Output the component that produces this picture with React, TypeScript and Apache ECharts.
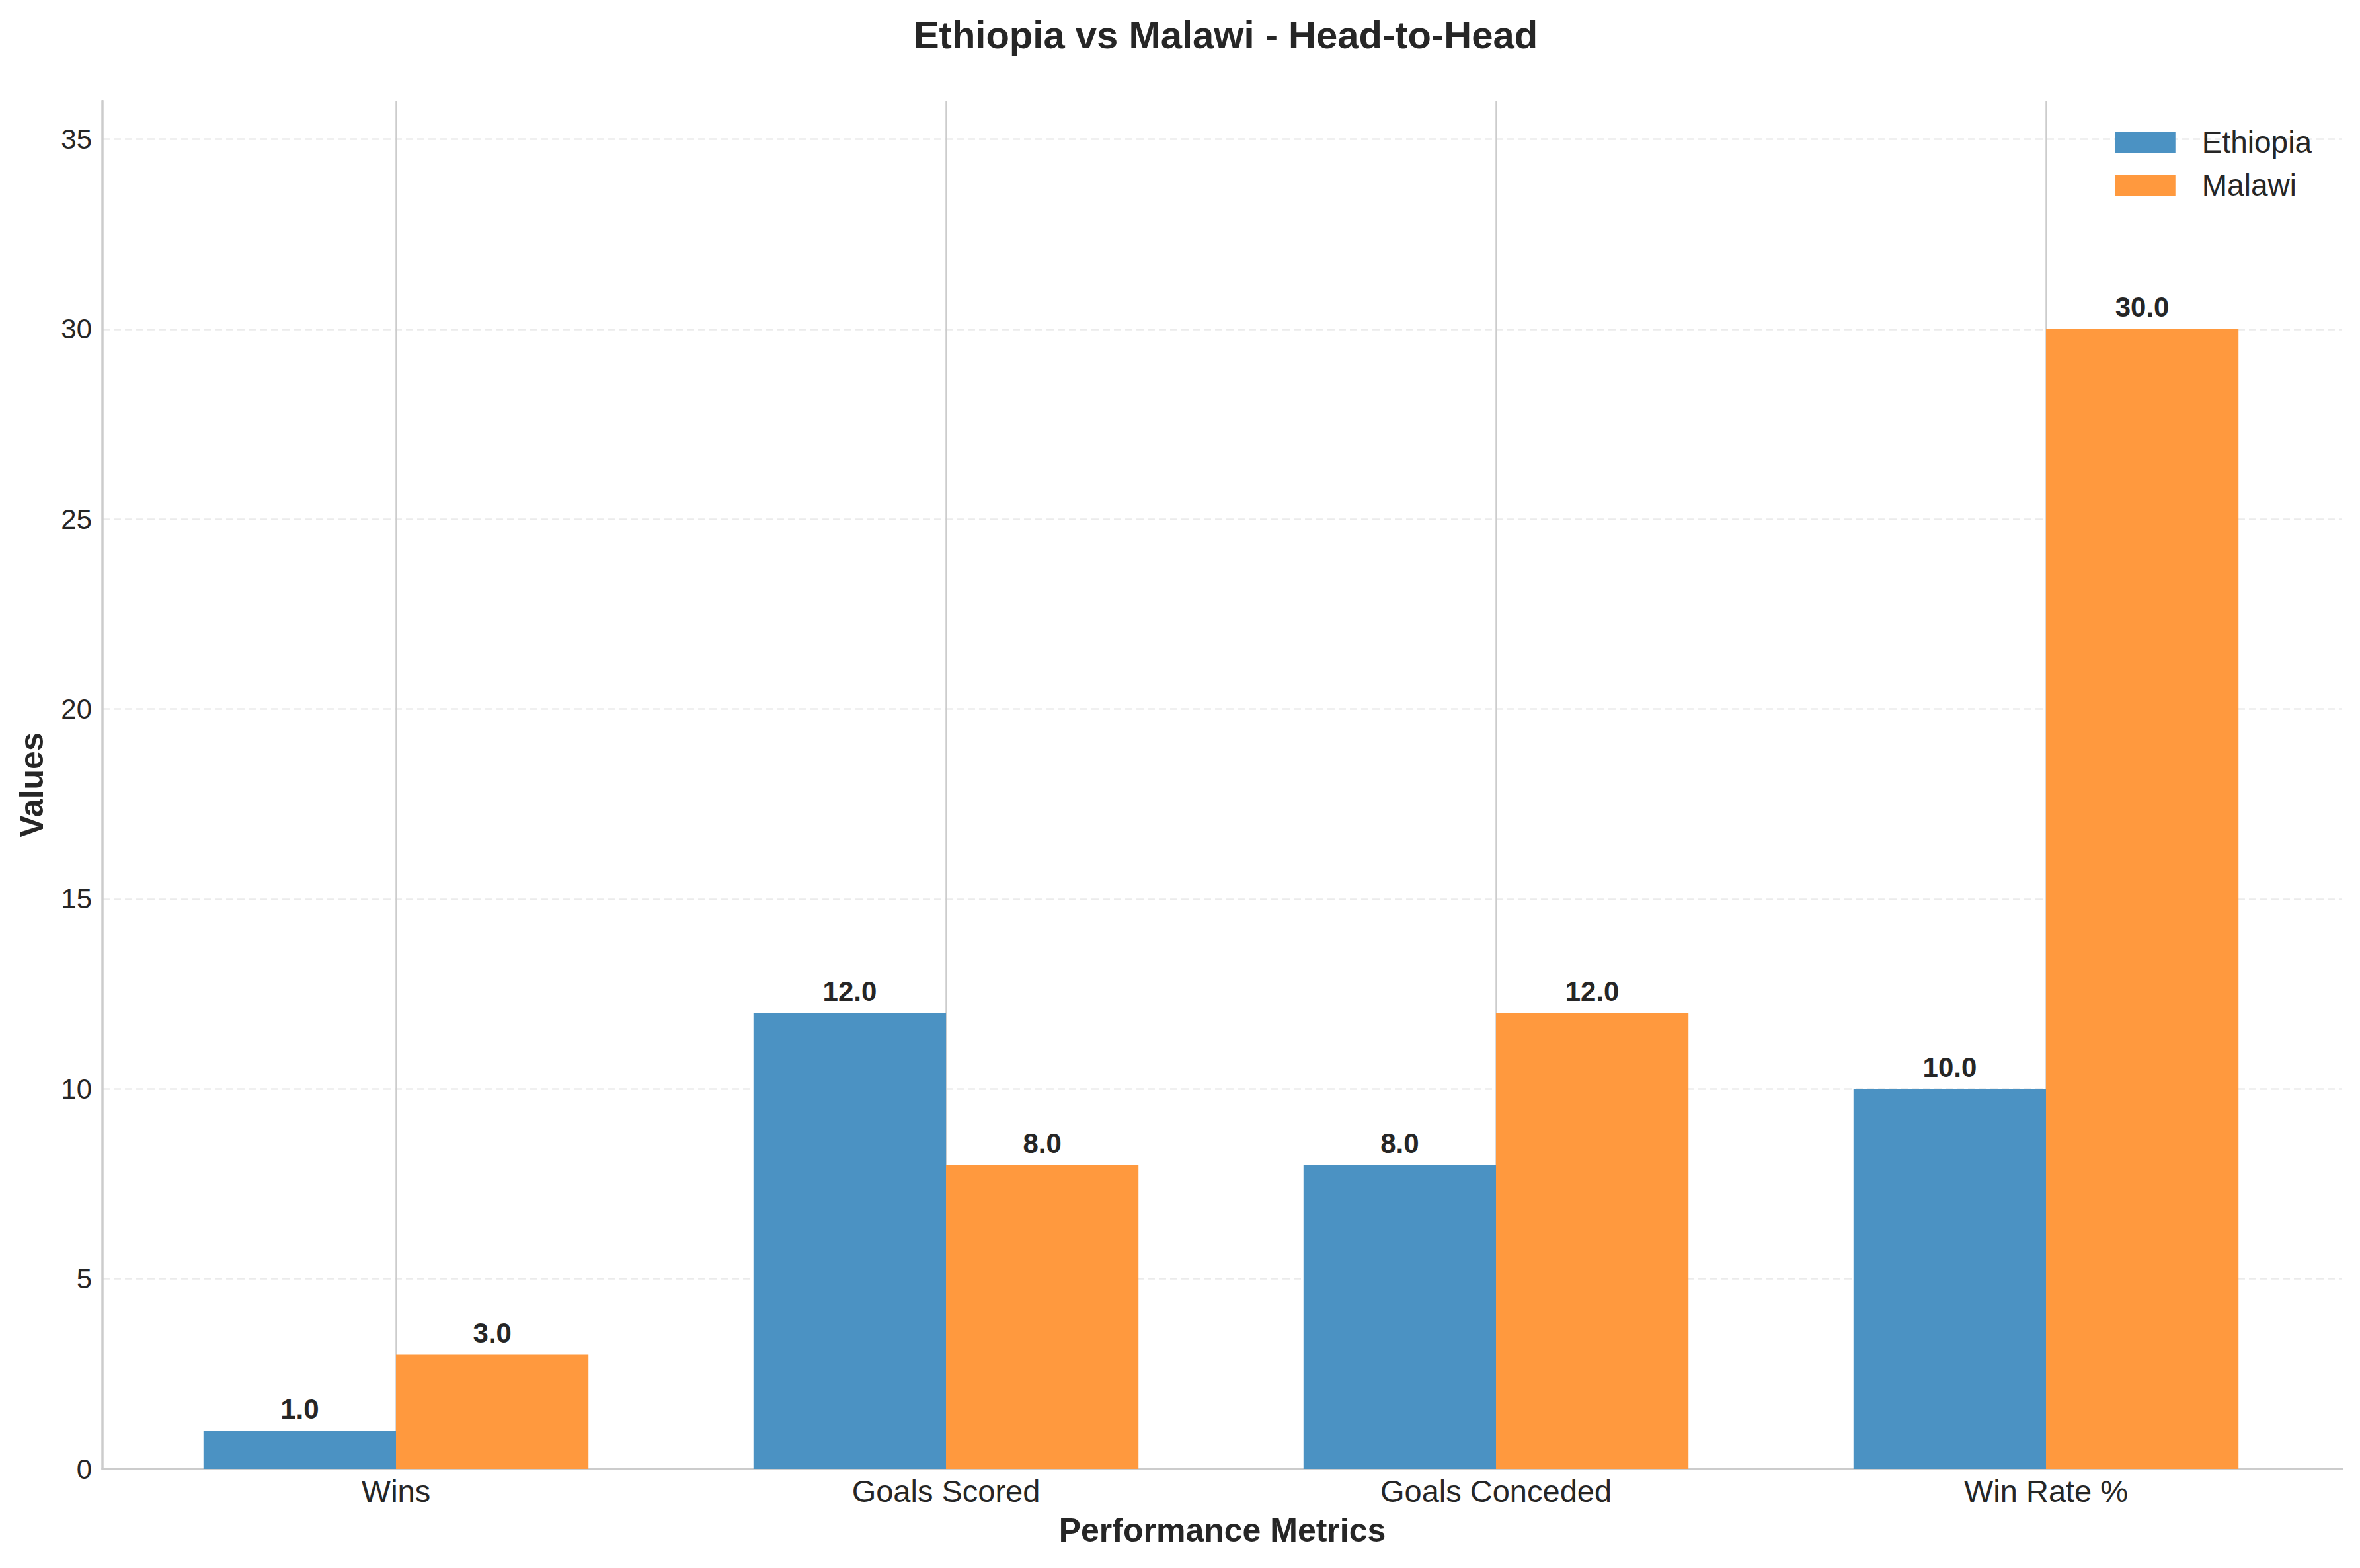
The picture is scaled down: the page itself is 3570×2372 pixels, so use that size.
import React, { useEffect, useRef } from "react";
import * as echarts from "echarts";

const categories = ["Wins", "Goals Scored", "Goals Conceded", "Win Rate %"];
const ethiopiaValues = [1, 12, 8, 10];
const malawiValues = [3, 8, 12, 30];
const yTicks = [0, 5, 10, 15, 20, 25, 30, 35];

const W = 3570;
const H = 2372;
const TEXT = "#262626";
const FONT = "Liberation Sans, Arial, sans-serif";

export default function App() {
  const ref = useRef<HTMLDivElement>(null);
  useEffect(() => {
    document.body.style.margin = "0";
    const chart = echarts.init(ref.current!, null, { renderer: "svg" });
    const plotL = 155, plotR = 3543, plotT = 153, plotB = 2222;
    const c0 = 599, step = 832;
    const yMax = 36;
    const tickMax = yTicks[yTicks.length - 1];
    const unit = (plotB - plotT) / yMax;
    const tickTop = plotB - tickMax * unit;
    const option: any = {
      animation: false,
      backgroundColor: "#ffffff",
      textStyle: { fontFamily: FONT, color: TEXT },
      title: {
        text: "Ethiopia vs Malawi - Head-to-Head",
        left: 1849,
        textAlign: "center",
        top: 18,
        textStyle: { fontFamily: FONT, fontSize: 58, fontWeight: "bold", color: TEXT },
      },
      legend: {
        orient: "vertical",
        right: 73,
        top: 192,
        padding: 0,
        itemWidth: 91,
        itemHeight: 32,
        itemGap: 19,
        icon: "rect",
        data: ["Ethiopia", "Malawi"],
        textStyle: { fontFamily: FONT, fontSize: 46, color: TEXT, lineHeight: 46, padding: [0, 0, 0, 35] },
      },
      grid: [
        { left: plotL, right: W - plotR, top: plotT, bottom: H - plotB, containLabel: false },
        { left: c0 - step / 2, right: W - (c0 + step * 3.5), top: plotT, bottom: H - plotB, containLabel: false },
        { left: c0, right: W - (c0 + step * 3), top: plotT, bottom: H - plotB, containLabel: false },
        { left: plotL, right: W - plotR, top: tickTop, bottom: H - plotB, containLabel: false },
      ],
      xAxis: [
        {
          gridIndex: 0,
          type: "value",
          min: 0,
          max: 1,
          axisLine: { show: true, lineStyle: { color: "#cccccc", width: 3.5 } },
          axisTick: { show: false },
          axisLabel: { show: false },
          splitLine: { show: false },
          name: "Performance Metrics",
          nameLocation: "middle",
          nameGap: 68,
          nameTextStyle: { fontFamily: FONT, fontSize: 50, fontWeight: "bold", color: TEXT },
        },
        {
          gridIndex: 1,
          type: "category",
          data: categories,
          axisLine: { show: false },
          axisTick: { show: false },
          splitLine: { show: false },
          axisLabel: { fontFamily: FONT, fontSize: 47, color: TEXT, margin: 10 },
        },
        {
          gridIndex: 2,
          type: "value",
          min: 0,
          max: 3,
          interval: 1,
          axisLine: { show: false },
          axisTick: { show: false },
          axisLabel: { show: false },
          splitLine: { show: true, lineStyle: { color: "#cccccc", width: 2.5, type: "solid" } },
        },
        {
          gridIndex: 3,
          type: "value",
          min: 0,
          max: 1,
          show: false,
          splitLine: { show: false },
        },
      ],
      yAxis: [
        {
          gridIndex: 0,
          type: "value",
          min: 0,
          max: yMax,
          axisLine: { show: true, lineStyle: { color: "#cccccc", width: 3.5 } },
          axisTick: { show: false },
          axisLabel: { show: false },
          splitLine: { show: false },
          name: "Values",
          nameLocation: "middle",
          nameGap: 82,
          nameTextStyle: { fontFamily: FONT, fontSize: 50, fontWeight: "bold", color: TEXT },
        },
        {
          gridIndex: 1,
          type: "value",
          min: 0,
          max: yMax,
          show: false,
          splitLine: { show: false },
        },
        {
          gridIndex: 2,
          type: "value",
          min: 0,
          max: yMax,
          show: false,
          splitLine: { show: false },
        },
        {
          gridIndex: 3,
          type: "value",
          min: 0,
          max: tickMax,
          interval: 5,
          axisLine: { show: false },
          axisTick: { show: false },
          axisLabel: {
            fontFamily: FONT,
            fontSize: 42,
            color: TEXT,
            margin: 16,
            formatter: (v: number) => (yTicks.includes(v) ? String(v) : ""),
          },
          splitLine: { show: true, lineStyle: { color: "#ebebeb", width: 2.5, type: [11, 6] } },
        },
      ],
      series: [
        {
          name: "Ethiopia",
          type: "bar",
          xAxisIndex: 1,
          yAxisIndex: 1,
          data: ethiopiaValues,
          barWidth: "35%",
          barGap: "0%",
          itemStyle: { color: "#4b92c3" },
          label: {
            show: true,
            position: "top",
            distance: 12,
            fontFamily: FONT,
            fontSize: 42,
            fontWeight: "bold",
            color: TEXT,
            formatter: (p: any) => Number(p.value).toFixed(1),
          },
        },
        {
          name: "Malawi",
          type: "bar",
          xAxisIndex: 1,
          yAxisIndex: 1,
          data: malawiValues,
          barWidth: "35%",
          barGap: "0%",
          itemStyle: { color: "#ff993e" },
          label: {
            show: true,
            position: "top",
            distance: 12,
            fontFamily: FONT,
            fontSize: 42,
            fontWeight: "bold",
            color: TEXT,
            formatter: (p: any) => Number(p.value).toFixed(1),
          },
        },
      ],
    };
    chart.setOption(option);
    return () => chart.dispose();
  }, []);
  return <div ref={ref} style={{ width: W, height: H }} />;
}
